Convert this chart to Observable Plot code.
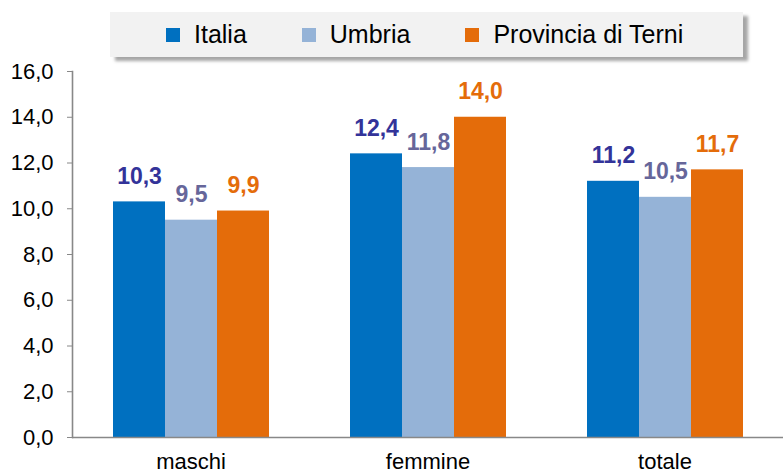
<!DOCTYPE html>
<html>
<head>
<meta charset="utf-8">
<script src="https://cdn.jsdelivr.net/npm/d3@7"></script>
<script src="https://cdn.jsdelivr.net/npm/@observablehq/plot@0.6"></script>
<style>
  html, body { margin: 0; padding: 0; background: #fff; }
  body { width: 783px; height: 475px; overflow: hidden; font-family: "Liberation Sans", Arial, sans-serif; }
  #legendWrap { position: relative; height: 48px; z-index: 2; }
  #legend {
    position: absolute; left: 110px; top: 12px; width: 633px; height: 45px;
    background: #F2F2F2; box-shadow: 5px 4px 3px rgba(0,0,0,0.35);
    display: flex; align-items: center; box-sizing: border-box; padding-left: 56px;
    font-size: 25px; color: #000;
  }
  .item { display: flex; align-items: center; margin-right: 55px; }
  .sw { width: 14px; height: 14px; margin-right: 14px; }
  #chart { position: relative; z-index: 1; }
</style>
</head>
<body>
<div id="legendWrap"><div id="legend"></div></div>
<div id="chart"></div>
<script>
const categories = ["maschi", "femmine", "totale"];
const series = ["Italia", "Umbria", "Provincia di Terni"];
const italia = [10.3, 12.4, 11.2];
const umbria = [9.5, 11.8, 10.5];
const terni = [9.9, 14.0, 11.7];
const yTicks = [0, 2, 4, 6, 8, 10, 12, 14, 16];

const barColors = ["#0070C0", "#95B3D7", "#E46C0A"];
const labelColors = ["#333399", "#66669A", "#E46C0A"];

const values = [italia, umbria, terni];
const data = [];
categories.forEach((c, ci) => series.forEach((s, si) => data.push({category: c, series: s, value: values[si][ci]})));

const fmt = d => d.toFixed(1).replace(".", ",");

// legend
const leg = document.getElementById("legend");
series.forEach((s, i) => {
  const it = document.createElement("div");
  it.className = "item";
  const sw = document.createElement("div");
  sw.className = "sw";
  sw.style.background = barColors[i];
  const t = document.createElement("span");
  t.textContent = s;
  it.appendChild(sw); it.appendChild(t);
  leg.appendChild(it);
});

const plot = Plot.plot({
  width: 783,
  height: 427,
  marginTop: 23,
  marginBottom: 38,
  marginLeft: 72,
  marginRight: 0,
  style: {fontFamily: "'Liberation Sans', Arial, sans-serif", color: "#000", background: "transparent", overflow: "visible"},
  fx: {domain: categories, padding: 0, label: null},
  x: {domain: series, paddingInner: 0, paddingOuter: 0.736, axis: null},
  y: {domain: [0, 16], label: null},
  color: {domain: series, range: barColors},
  marks: [
    Plot.barY(data, {fx: "category", x: "series", y: "value", fill: "series"}),
    ...series.map((s, i) => Plot.text(data.filter(d => d.series === s), {
      fx: "category", x: "series", y: "value", text: d => fmt(d.value),
      fill: labelColors[i], fontSize: 23, fontWeight: "bold", lineAnchor: "bottom", dy: -18
    })),
    Plot.ruleY([0], {stroke: "#888", strokeWidth: 1.6}),
    Plot.frame({anchor: "left", facet: "super", stroke: "#888", strokeWidth: 1.6}),
    Plot.axisY({ticks: yTicks, tickFormat: fmt, tickSize: 5, tickPadding: 14, fontSize: 22, stroke: "#888", label: null}),
    Plot.axisFx({anchor: "bottom", tickSize: 0, tickPadding: 16, fontSize: 22, label: null})
  ]
});
document.getElementById("chart").appendChild(plot);
</script>
</body>
</html>
